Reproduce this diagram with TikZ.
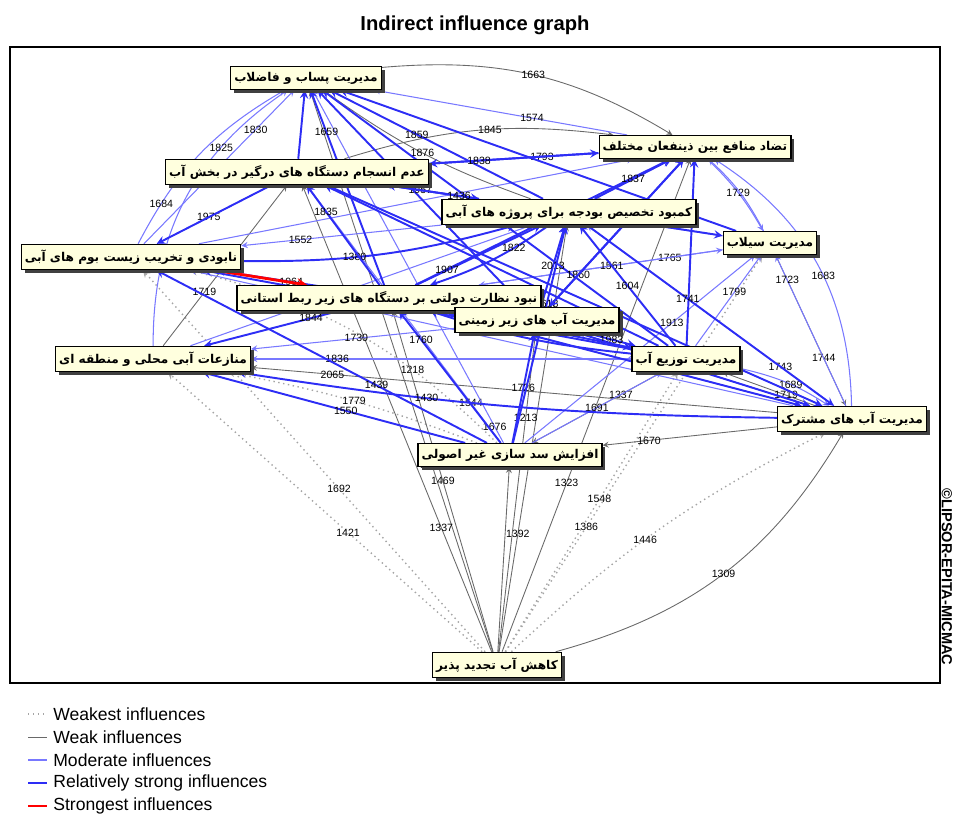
\documentclass[tikz,border=0pt]{standalone}
\usepackage{fontspec}
\setmainfont{Liberation Sans}
\newfontfamily\farsi[Script=Arabic]{DejaVu Sans}
\TeXXeTstate=1
\usetikzlibrary{shadows}
\pgfdeclarelayer{edges}
\pgfsetlayers{edges,main}
\definecolor{boxfill}{RGB}{255,255,222}
\definecolor{modblue}{RGB}{120,120,255}
\definecolor{strblue}{RGB}{45,45,245}
\definecolor{weakgray}{RGB}{105,105,105}
\definecolor{dotgray}{RGB}{165,165,165}
\tikzset{factor/.style={draw, line width=0.8pt, fill=boxfill, inner xsep=2pt, inner ysep=3pt, font=\farsi\bfseries\fontsize{6.9}{8}\selectfont, drop shadow={shadow xshift=2pt, shadow yshift=-2pt, fill=black!75, opacity=1}}}
\tikzset{weakestinf/.style={draw=dotgray, dotted, line width=0.8pt, ->, >=stealth}}
\tikzset{weakinf/.style={draw=weakgray, line width=0.5pt, ->, >=stealth}}
\tikzset{modinf/.style={draw=modblue, line width=0.6pt, ->, >=stealth}}
\tikzset{rstronginf/.style={draw=strblue, line width=1.1pt, ->, >=stealth}}
\tikzset{stronginf/.style={draw=red, line width=1.6pt, ->, >=stealth}}
\tikzset{val/.style={font=\fontsize{6}{6}\selectfont, inner sep=0.5pt}}

\begin{document}
\begin{tikzpicture}[x=0.02cm, y=-0.02cm]
\path [use as bounding box] (0,0) rectangle (953,818);
\node [font=\bfseries\fontsize{11.5}{12}\selectfont] (title) at (475,25) {Indirect influence graph};
\draw [line width=0.8pt] (10,47) rectangle (940,683);
\node [rotate=-90, font=\bfseries\fontsize{8.3}{9}\selectfont] (copyr) at (947,577) {\textcopyright LIPSOR-EPITA-MICMAC};

% factors
\node [factor] (pasab) at (306,78) {\beginR مدیریت پساب و فاضلاب\endR};
\node [factor] (tazad) at (695,147) {\beginR تضاد منافع بین ذینفعان مختلف\endR};
\node [factor] (ensejam) at (297,172) {\beginR عدم انسجام دستگاه های درگیر در بخش آب\endR};
\node [factor] (budje) at (569,212) {\beginR کمبود تخصیص بودجه برای پروژه های آبی\endR};
\node [factor] (zistboom) at (131,257) {\beginR نابودی و تخریب زیست بوم های آبی\endR};
\node [factor] (silab) at (770,243) {\beginR مدیریت سیلاب\endR};
\node [factor] (nezarat) at (389,298) {\beginR نبود نظارت دولتی بر دستگاه های زیر ربط استانی\endR};
\node [factor] (zirzamini) at (537,320) {\beginR مدیریت آب های زیر زمینی\endR};
\node [factor] (monazeat) at (153,359) {\beginR منازعات آبی محلی و منطقه ای\endR};
\node [factor] (tozi) at (686,359) {\beginR مدیریت توزیع آب\endR};
\node [factor] (moshtarak) at (852,419) {\beginR مدیریت آب های مشترک\endR};
\node [factor] (sadsazi) at (510,455) {\beginR افزایش سد سازی غیر اصولی\endR};
\node [factor] (kahesh) at (497,665) {\beginR کاهش آب تجدید پذیر\endR};

\begin{pgfonlayer}{edges}
% weakest
\foreach \s/\t/\lab/\ps/\bn in {kahesh/zistboom/1692/0.42/0, kahesh/monazeat/1421/0.42/0, kahesh/silab/1386/0.3/0, kahesh/moshtarak/1446/0.45/8, sadsazi/monazeat/1779/0.5/-5, sadsazi/zistboom/1218/0.3/-15, kahesh/tozi/1548/0.55/0}
  \draw [weakestinf] (\s) to[bend left=\bn] node[val, pos=\ps] {\lab} (\t);
% weak
\foreach \s/\t/\lab/\ps/\bn in {pasab/tazad/1663/0.5/18, ensejam/tazad/1845/0.55/12, kahesh/pasab/1673/0.32/0, kahesh/ensejam/1337/0.25/0, kahesh/nezarat/1469/0.5/0, kahesh/budje/1392/0.26/0, kahesh/tazad/1323/0.33/0, kahesh/zirzamini/1213/0.75/0, kahesh/sadsazi//0.5/0, kahesh/moshtarak/1309/0.5/-22, moshtarak/monazeat/2065/0.86/0, monazeat/ensejam/1719/0.32/0, silab/moshtarak/1744/0.7/0, moshtarak/tozi/1719/0.3/0, tozi/sadsazi/1337/0.3/0, moshtarak/sadsazi/1670/0.75/0, budje/pasab/1876/0.5/8, tazad/budje//0.5/0}
  \draw [weakinf] (\s) to[bend left=\bn] node[val, pos=\ps] {\lab} (\t);
% moderate
\foreach \s/\t/\lab/\ps/\bn in {zistboom/pasab/1830/0.76/0, monazeat/pasab/1825/0.72/28, zistboom/pasab/1684/0.2/16, moshtarak/silab/1723/0.85/0, moshtarak/tazad/1683/0.45/-28, tazad/silab/1729/0.5/8, tozi/monazeat/1836/0.79/0, zirzamini/monazeat/1730/0.48/0, ensejam/zistboom/1975/0.55/0, budje/zistboom/1552/0.72/0, tozi/silab/1799/0.6/0, moshtarak/budje/1743/0.2/0, sadsazi/silab/1913/0.65/0, tozi/moshtarak/1689/0.55/10, zirzamini/moshtarak/1715/0.5/0, sadsazi/tozi/1691/0.5/0, tazad/pasab/1574/0.365/0, sadsazi/ensejam/1544/0.14/0, moshtarak/zistboom//0.5/0, sadsazi/pasab/1676/0.04/0, silab/tazad//0.5/-10, nezarat/silab/1765/0.8/0, silab/ensejam//0.5/0, silab/nezarat/1561/0.45/0, moshtarak/zirzamini//0.5/0, zistboom/tazad//0.5/0, monazeat/budje//0.5/0, moshtarak/nezarat//0.5/0}
  \draw [modinf] (\s) to[bend left=\bn] node[val, pos=\ps] {\lab} (\t);
% relatively strong
\foreach \s/\t/\lab/\ps/\bn in {nezarat/pasab/1659/0.8/0, ensejam/pasab//0.5/0, budje/pasab/1859/0.6/0, zirzamini/pasab//0.5/0, tozi/pasab//0.5/0, ensejam/tazad/1793/0.68/0, nezarat/tazad//0.5/0, zirzamini/tazad/1860/0.2/0, tozi/tazad//0.5/0, budje/tazad/1837/0.5/0, nezarat/budje/1907/0.23/0, ensejam/budje/1957/0.35/0, zistboom/budje/1380/0.4/-8, nezarat/ensejam/1835/0.75/0, sadsazi/nezarat/1760/0.8/0, tozi/budje/1604/0.5/0, zirzamini/budje/2013/0.5/0, budje/silab//0.5/0, ensejam/moshtarak//0.5/0, nezarat/moshtarak//0.5/0, zirzamini/moshtarak//0.5/0, budje/moshtarak/1741/0.4/0, zirzamini/tozi/1983/0.5/0, sadsazi/zirzamini/1726/0.5/0, nezarat/monazeat/1844/0.19/0, zirzamini/zistboom/1964/0.7/0, sadsazi/monazeat/1550/0.45/0, nezarat/tozi//0.5/0, ensejam/zistboom//0.5/0, sadsazi/budje/1618/0.65/0, tozi/ensejam//0.5/0, budje/ensejam/1436/0.2/0, tazad/ensejam/1838/0.72/0, silab/pasab//0.5/0, tozi/nezarat/1824/0.7/6, budje/nezarat/1822/0.3/8, sadsazi/zistboom/1439/0.32/0, moshtarak/monazeat/1430/0.66/4, tozi/zistboom//0.5/0, tazad/zirzamini//0.5/0}
  \draw [rstronginf] (\s) to[bend left=\bn] node[val, pos=\ps] {\lab} (\t);
% strongest
\draw [stronginf] (zistboom) -- (nezarat);
\end{pgfonlayer}

% legend
\foreach \yy/\sty/\txt in {714/weakestinf/Weakest influences, 737/weakinf/Weak influences, 760/modinf/Moderate influences, 783/rstronginf/Relatively strong influences, 806/stronginf/Strongest influences} {
  \draw [\sty, -] (28,\yy) -- (47,\yy);
  \node [anchor=west, font=\fontsize{10}{11}\selectfont, inner sep=0pt] (leg\yy) at (53,\yy) {\txt};
}
\end{tikzpicture}
\end{document}
